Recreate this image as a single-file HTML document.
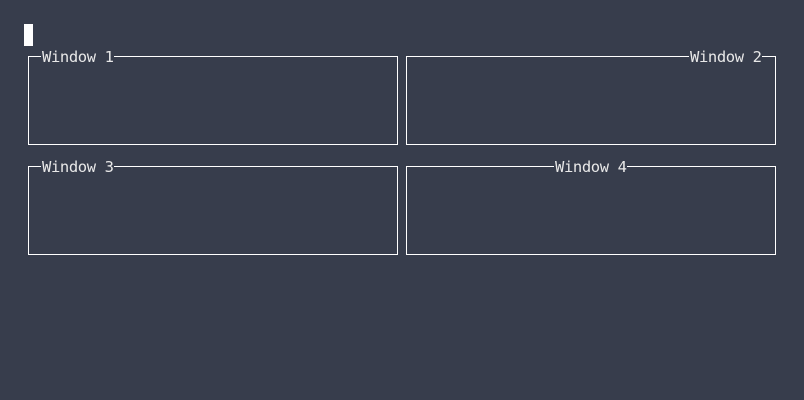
<!DOCTYPE html>
<html><head><meta charset="utf-8"><style>
html,body{margin:0;padding:0;background:#373d4c;width:804px;height:400px;overflow:hidden}
svg{display:block}
text{font-family:"DejaVu Sans Mono","Liberation Mono",monospace;font-size:15.5px;fill:#e8e8e8}
</style></head><body>
<svg width="804" height="400">
<rect x="0" y="0" width="804" height="400" fill="#373d4c"/>
<rect x="24" y="24" width="9" height="22" fill="#ffffff"/>
<g>
<rect x="28.5" y="56.5" width="369" height="88" fill="none" stroke="#fff" stroke-width="1"/>
<rect x="41" y="50" width="73" height="14" fill="#373d4c"/>
<text x="42" y="62" textLength="72">Window 1</text>
</g>
<g>
<rect x="406.5" y="56.5" width="369" height="88" fill="none" stroke="#fff" stroke-width="1"/>
<rect x="689" y="50" width="73" height="14" fill="#373d4c"/>
<text x="690" y="62" textLength="72">Window 2</text>
</g>
<g>
<rect x="28.5" y="166.5" width="369" height="88" fill="none" stroke="#fff" stroke-width="1"/>
<rect x="41" y="160" width="73" height="14" fill="#373d4c"/>
<text x="42" y="172" textLength="72">Window 3</text>
</g>
<g>
<rect x="406.5" y="166.5" width="369" height="88" fill="none" stroke="#fff" stroke-width="1"/>
<rect x="554" y="160" width="73" height="14" fill="#373d4c"/>
<text x="555" y="172" textLength="72">Window 4</text>
</g>
</svg>
</body></html>
